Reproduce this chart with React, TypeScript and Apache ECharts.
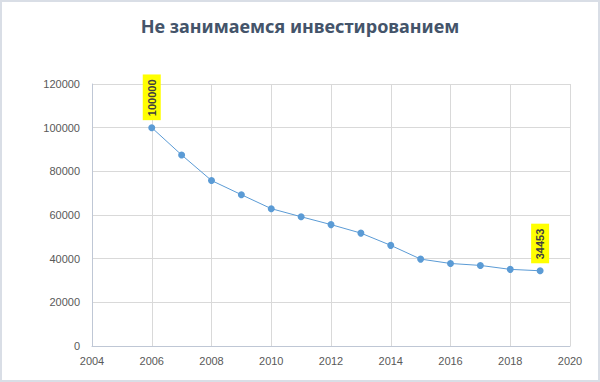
import React, { useEffect, useRef } from "react";
import * as echarts from "echarts";

const title = "Не занимаемся инвестированием";
const years = [2006, 2007, 2008, 2009, 2010, 2011, 2012, 2013, 2014, 2015, 2016, 2017, 2018, 2019];
const values = [100000, 87500, 75800, 69300, 62900, 59200, 55600, 51700, 46100, 39800, 37800, 36900, 35100, 34453];
const labeledYears = [2006, 2019];

export default function App() {
  const ref = useRef<HTMLDivElement>(null);
  useEffect(() => {
    if (!ref.current) return;
    const chart = echarts.init(ref.current, null, { renderer: "svg" });
    const data = years.map((y, i) => {
      const item: any = { value: [y, values[i]] };
      if (labeledYears.includes(y)) {
        item.label = {
          show: true,
          position: "top",
          rotate: 90,
          align: "left",
          verticalAlign: "middle",
          distance: 4,
          backgroundColor: "#ffff00",
          color: "#404040",
          fontWeight: "bold",
          fontSize: 11,
          fontFamily: "Liberation Sans, Arial",
          padding: [4, 5, 3, 4],
          formatter: String(values[i]),
        };
      }
      return item;
    });
    chart.setOption({
      animation: false,
      backgroundColor: "#ffffff",
      title: {
        text: title,
        left: "center",
        top: 12,
        textStyle: {
          fontFamily: "Noto Sans, Open Sans, sans-serif",
          fontSize: 18,
          fontWeight: "bold",
          color: "#44546a",
        },
      },
      graphic: [
        {
          type: "rect",
          shape: { x: 1, y: 1, width: 598, height: 380 },
          style: { fill: "none", stroke: "#d9dee6", lineWidth: 2 },
          silent: true,
        },
      ],
      grid: { left: 92, right: 30, top: 84, bottom: 36 },
      xAxis: {
        type: "value",
        min: 2004,
        max: 2020,
        interval: 2,
        axisLine: { show: true, onZero: false, lineStyle: { color: "#bfc7d5", width: 1 } },
        axisTick: { show: false },
        splitLine: { show: true, lineStyle: { color: "#d9d9d9", width: 1 } },
        axisLabel: {
          color: "#595959",
          fontSize: 11,
          fontFamily: "Liberation Sans, Arial",
          margin: 9,
          formatter: (v: number) => String(v),
        },
      },
      yAxis: {
        type: "value",
        min: 0,
        max: 120000,
        interval: 20000,
        axisLine: { show: true, lineStyle: { color: "#bfc7d5", width: 1 } },
        axisTick: { show: false },
        splitLine: { show: true, lineStyle: { color: "#d9d9d9", width: 1 } },
        axisLabel: {
          color: "#595959",
          fontSize: 11,
          fontFamily: "Liberation Sans, Arial",
          margin: 12,
          formatter: (v: number) => String(v),
        },
      },
      series: [
        {
          type: "line",
          data,
          symbol: "circle",
          symbolSize: 7,
          itemStyle: { color: "#5b9bd5" },
          lineStyle: { color: "#5b9bd5", width: 1 },
        },
      ],
    });
    return () => chart.dispose();
  }, []);
  return <div ref={ref} style={{ width: 600, height: 382, position: "absolute", left: 0, top: 0 }} />;
}
